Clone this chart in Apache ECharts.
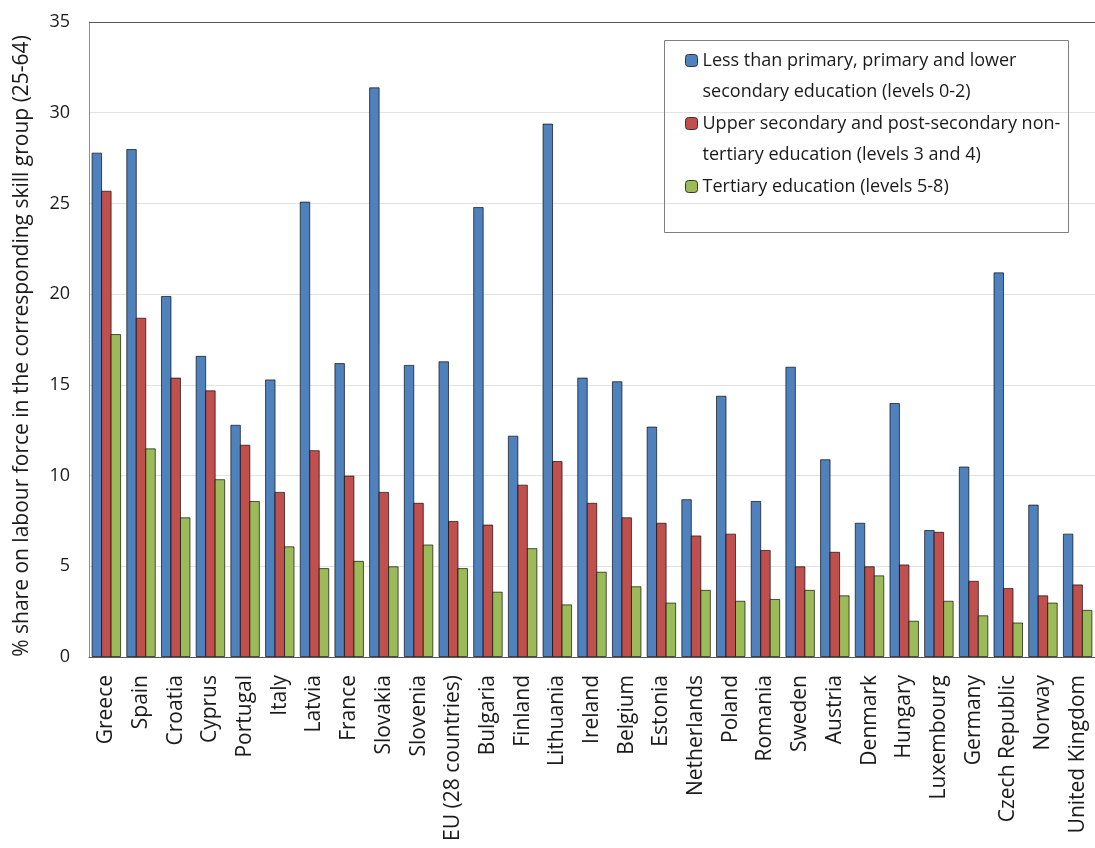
<!DOCTYPE html>
<html>
<head>
<meta charset="utf-8">
<script src="https://cdn.jsdelivr.net/npm/echarts@6/dist/echarts.min.js"></script>
<style>
html,body{margin:0;padding:0;background:#fff;}
#chart{width:1095px;height:848px;}
</style>
</head>
<body>
<div id="chart"></div>
<script>
const categories = ['Greece','Spain','Croatia','Cyprus','Portugal','Italy','Latvia','France','Slovakia','Slovenia','EU (28 countries)','Bulgaria','Finland','Lithuania','Ireland','Belgium','Estonia','Netherlands','Poland','Romania','Sweden','Austria','Denmark','Hungary','Luxembourg','Germany','Czech Republic','Norway','United Kingdom'];
const lowerSecondary = [27.8,28.0,19.9,16.6,12.8,15.3,25.1,16.2,31.4,16.1,16.3,24.8,12.2,29.4,15.4,15.2,12.7,8.7,14.4,8.6,16.0,10.9,7.4,14.0,7.0,10.5,21.2,8.4,6.8];
const upperSecondary = [25.7,18.7,15.4,14.7,11.7,9.1,11.4,10.0,9.1,8.5,7.5,7.3,9.5,10.8,8.5,7.7,7.4,6.7,6.8,5.9,5.0,5.8,5.0,5.1,6.9,4.2,3.8,3.4,4.0];
const tertiary = [17.8,11.5,7.7,9.8,8.6,6.1,4.9,5.3,5.0,6.2,4.9,3.6,6.0,2.9,4.7,3.9,3.0,3.7,3.1,3.2,3.7,3.4,4.5,2.0,3.1,2.3,1.9,3.0,2.6];
const seriesNames = [
  'Less than primary, primary and lower secondary education (levels 0-2)',
  'Upper secondary and post-secondary non-tertiary education (levels 3 and 4)',
  'Tertiary education (levels 5-8)'
];
const legendLines = [
  ['Less than primary, primary and lower', 'secondary education (levels 0-2)'],
  ['Upper secondary and post-secondary non-', 'tertiary education (levels 3 and 4)'],
  ['Tertiary education (levels 5-8)', '']
];
const yTicks = {min: 0, max: 35, interval: 5};

const FONT = '"Open Sans", sans-serif';
const colors = ['#4F81BD', '#C0504D', '#9BBB59'];
const values = [lowerSecondary, upperSecondary, tertiary];

const chart = echarts.init(document.getElementById('chart'), null, {renderer: 'canvas'});
chart.setOption({
  animation: false,
  backgroundColor: '#fff',
  textStyle: {fontFamily: FONT},
  grid: {left: 89, top: 22, right: -10, bottom: 191, containLabel: false},
  legend: {
    orient: 'vertical',
    left: 685,
    top: 14,
    padding: 0,
    itemGap: -30,
    itemWidth: 12,
    itemHeight: 12,
    selectedMode: false,
    data: seriesNames,
    formatter: function (name) {
      const i = seriesNames.indexOf(name);
      return '\n' + legendLines[i][0] + '\n' + legendLines[i][1];
    },
    textStyle: {fontFamily: FONT, fontSize: 18, color: '#1a1a1a', lineHeight: 31},
    itemStyle: {borderColor: '#333', borderWidth: 1}
  },
  graphic: [{
    type: 'rect',
    shape: {x: 664.5, y: 40.5, width: 404, height: 192},
    style: {fill: 'none', stroke: '#7f7f7f', lineWidth: 1},
    silent: true,
    z: 10
  }, {
    type: 'line',
    shape: {x1: 89, y1: 22.5, x2: 1095, y2: 22.5},
    style: {stroke: '#595959', lineWidth: 1},
    silent: true,
    z: 10
  }],
  xAxis: {
    type: 'category',
    data: categories,
    axisLine: {lineStyle: {color: '#595959', width: 1}},
    axisTick: {show: false},
    axisLabel: {rotate: 90, fontFamily: FONT, fontSize: 21, color: '#1a1a1a', margin: 18, interval: 0}
  },
  yAxis: {
    type: 'value',
    min: yTicks.min,
    max: yTicks.max,
    interval: yTicks.interval,
    name: '% share on labour force in the corresponding skill group (25-64)',
    nameLocation: 'middle',
    nameGap: 56,
    nameTextStyle: {fontFamily: FONT, fontSize: 21, color: '#1a1a1a', padding: [0, 13, 0, 0]},
    axisLine: {show: true, lineStyle: {color: '#8c8c8c', width: 1}},
    axisTick: {show: false},
    axisLabel: {fontFamily: FONT, fontSize: 18, color: '#1a1a1a', margin: 19},
    splitLine: {lineStyle: {color: '#e3e3e3', width: 1}}
  },
  series: values.map((v, i) => ({
    name: seriesNames[i],
    type: 'bar',
    data: v,
    barWidth: 10.5,
    barGap: '-9.5%',
    itemStyle: {color: colors[i], borderColor: 'rgba(0,0,0,0.65)', borderWidth: 1}
  }))
});
</script>
</body>
</html>
